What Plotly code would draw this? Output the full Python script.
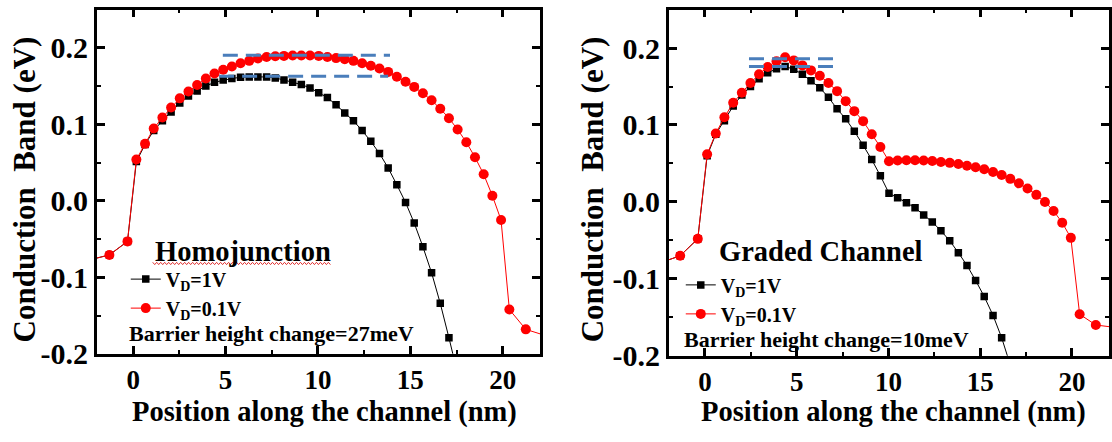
import plotly.graph_objects as go

W, H = 1112, 442
FONT = "Liberation Serif"

# ---------------- data ----------------
homo_x = [-2.27, -1.29, -0.31, 0.17, 0.64, 1.11, 1.58, 2.05, 2.52, 2.99, 3.46, 3.93, 4.40,
          4.87, 5.34, 5.81, 6.28, 6.75, 7.22, 7.69, 8.16, 8.63, 9.10, 9.57, 10.04, 10.51,
          10.98, 11.45, 11.92, 12.39, 12.86, 13.33, 13.80, 14.27, 14.74, 15.21, 15.68,
          16.15, 16.62, 17.09, 17.56, 18.03, 18.50, 18.97, 19.44, 19.91, 20.36, 21.25, 22.30]
homo_red = [-0.0766, -0.0707, -0.053, 0.054, 0.0745, 0.0946, 0.109, 0.122, 0.134, 0.143,
            0.1515, 0.160, 0.1665, 0.1715, 0.1757, 0.180, 0.183, 0.186, 0.188, 0.189, 0.1895,
            0.190, 0.190, 0.190, 0.1895, 0.188, 0.1866, 0.185, 0.183, 0.180, 0.1766, 0.173,
            0.1686, 0.1623, 0.1556, 0.149, 0.1406, 0.1314, 0.1205, 0.108, 0.0933, 0.0766,
            0.057, 0.0347, 0.0067, -0.025, -0.142, -0.168, -0.176]
homo_black = [-0.0766, -0.0707, -0.053, 0.0515, 0.0736, 0.092, 0.1046, 0.116, 0.128, 0.137,
              0.1435, 0.150, 0.155, 0.158, 0.160, 0.1615, 0.162, 0.162, 0.162, 0.1607, 0.158,
              0.155, 0.152, 0.1477, 0.1414, 0.135, 0.1255, 0.115, 0.1046, 0.092, 0.0778,
              0.062, 0.043, 0.021, -0.002, -0.029, -0.060, -0.094, -0.134, -0.179, -0.226]

graded_x = [-2.30, -1.35, -0.39, 0.12, 0.59, 1.06, 1.54, 2.01, 2.48, 2.95, 3.42, 3.90, 4.37,
            4.84, 5.31, 5.78, 6.26, 6.73, 7.20, 7.67, 8.14, 8.62, 9.09, 9.56, 10.03, 10.50,
            10.98, 11.45, 11.92, 12.39, 12.86, 13.34, 13.81, 14.28, 14.75, 15.22, 15.70,
            16.17, 16.64, 17.11, 17.58, 18.06, 18.53, 19.00, 19.47, 19.94, 20.42, 21.30, 22.30]
graded_red = [-0.078, -0.070, -0.048, 0.062, 0.089, 0.110, 0.129, 0.142, 0.1547, 0.166,
              0.1755, 0.183, 0.188, 0.184, 0.1775, 0.171, 0.164, 0.1547, 0.144, 0.131, 0.118,
              0.105, 0.088, 0.0715, 0.0529, 0.0538, 0.0542, 0.0542, 0.0538, 0.0533, 0.052,
              0.0508, 0.0492, 0.0471, 0.045, 0.0425, 0.0388, 0.035, 0.030, 0.0242, 0.0175,
              0.0092, 0.0, -0.0117, -0.027, -0.0467, -0.146, -0.160, -0.163]
graded_black = [-0.078, -0.070, -0.048, 0.060, 0.088, 0.1056, 0.1247, 0.139, 0.150, 0.160,
                0.168, 0.173, 0.176, 0.1725, 0.166, 0.1576, 0.1484, 0.136, 0.121, 0.108,
                0.092, 0.0736, 0.055, 0.034, 0.0112, 0.0055, -0.001, -0.0075, -0.017, -0.026,
                -0.0375, -0.0505, -0.066, -0.0825, -0.102, -0.123, -0.1475, -0.1765, -0.212]

# barrier-height reference levels (dashed lines)
homo_levels = [0.1905, 0.163]
homo_level_x = [[4.85, 13.9], [4.65, 13.8]]
graded_levels = [0.186, 0.176]
graded_level_x = [[2.4, 7.4], [2.4, 7.4]]

series_names = ["V<sub>D</sub>=1V", "V<sub>D</sub>=0.1V"]
panel_titles = ["Homojunction", "Graded Channel"]
barrier_notes = ["Barrier height change=27meV", "Barrier height change=10meV"]
x_tickvals = [0, 5, 10, 15, 20]
y_tickvals = [-0.2, -0.1, 0.0, 0.1, 0.2]
y_ticktext = ["-0.2", "-0.1", "0.0", "0.1", "0.2"]
x_title = "Position along the channel (nm)"
y_title = "Conduction  Band (eV)"

# ---------------- figure ----------------
fig = go.Figure()

panels = [
    dict(xa="x", ya="y", leg="legend", x=homo_x, red=homo_red, black=homo_black,
         levels=homo_levels, lx=homo_level_x),
    dict(xa="x2", ya="y2", leg="legend2", x=graded_x, red=graded_red, black=graded_black,
         levels=graded_levels, lx=graded_level_x),
]

for p in panels:
    fig.add_trace(go.Scatter(
        x=p["x"][:len(p["black"])], y=p["black"], mode="lines+markers",
        name=series_names[0], xaxis=p["xa"], yaxis=p["ya"], legend=p["leg"],
        line=dict(color="black", width=1),
        marker=dict(symbol="square", size=7.5, color="black", line=dict(width=0))))
    fig.add_trace(go.Scatter(
        x=p["x"], y=p["red"], mode="lines+markers",
        name=series_names[1], xaxis=p["xa"], yaxis=p["ya"], legend=p["leg"],
        line=dict(color="red", width=1),
        marker=dict(symbol="circle", size=10, color="red", line=dict(width=0))))
    for lev, xs in zip(p["levels"], p["lx"]):
        fig.add_trace(go.Scatter(
            x=xs, y=[lev, lev], mode="lines", showlegend=False, hoverinfo="skip",
            xaxis=p["xa"], yaxis=p["ya"],
            line=dict(color="#4a7ebb", width=3, dash="15px,8px")))


def xaxis(domain, anchor):
    return dict(domain=domain, anchor=anchor, range=[-1.97, 22.02],
                tickvals=x_tickvals, ticks="inside", ticklen=8, tickwidth=2.5,
                tickcolor="black", showline=True, linecolor="black", linewidth=2.5,
                mirror="allticks", showgrid=False, zeroline=False,
                tickfont=dict(family=FONT, size=27, color="black", weight="bold"),
                minor=dict(ticks="inside", ticklen=4, tickwidth=2, dtick=2.5, tick0=0,
                           tickcolor="black", showgrid=False))


def yaxis(domain, anchor):
    return dict(domain=domain, anchor=anchor, range=[-0.2, 0.25],
                tickvals=y_tickvals, ticktext=y_ticktext, ticks="inside", ticklen=8,
                tickwidth=2.5, tickcolor="black", showline=True, linecolor="black",
                linewidth=2.5, mirror="allticks", showgrid=False, zeroline=False,
                tickfont=dict(family=FONT, size=30, color="black", weight="bold"),
                minor=dict(ticks="inside", ticklen=4, tickwidth=2, dtick=0.05, tick0=0,
                           tickcolor="black", showgrid=False))


px = lambda v: v / W
py = lambda v: 1 - v / H

legfont = dict(family=FONT, size=20, color="black", weight="bold")
fig.update_layout(
    width=W, height=H, margin=dict(l=0, r=0, t=0, b=0),
    paper_bgcolor="white", plot_bgcolor="white",
    xaxis=xaxis([px(97), px(541)], "y"),
    yaxis=yaxis([py(368), py(10)], "x"),
    xaxis2=xaxis([px(670), px(1111)], "y2"),
    yaxis2=yaxis([py(370), py(10)], "x2"),
    legend=dict(x=px(126), y=py(270), xanchor="left", yanchor="top", font=legfont,
                bgcolor="rgba(0,0,0,0)", tracegroupgap=0, itemwidth=30),
    legend2=dict(x=px(682), y=py(276), xanchor="left", yanchor="top", font=legfont,
                 bgcolor="rgba(0,0,0,0)", tracegroupgap=0, itemwidth=30),
    showlegend=True,
)


def note(text, x, y, size, xanchor="center", angle=0):
    return dict(text=text, x=px(x), y=py(y), xref="paper", yref="paper",
                xanchor=xanchor, yanchor="middle", textangle=angle, showarrow=False,
                font=dict(family=FONT, size=size, color="black", weight="bold"))


ann = []
for cx in (325, 895):
    ann.append(note(x_title, cx, 428, 28.5))
for cx in (24, 593):
    ann.append(note(y_title, cx, 197, 31, angle=-90))
ann.append(note(panel_titles[0], 243, 262, 28.5))
ann.append(note(panel_titles[1], 822, 262, 28.5))
ann.append(note(barrier_notes[0], 127, 347, 22, xanchor="left"))
ann.append(note(barrier_notes[1], 683, 353, 22, xanchor="left"))
fig.update_layout(annotations=ann)

# red wavy spell-check underline under "Homojunction"
pts = []
xx = 153.0
k = 0
while xx <= 332:
    pts.append((px(xx), py(274 + (1.2 if k % 2 else -1.2))))
    xx += 2.0
    k += 1
path = "M " + " L ".join(f"{a:.5f},{b:.5f}" for a, b in pts)
fig.add_shape(type="path", path=path, xref="paper", yref="paper",
              line=dict(color="#e03030", width=1))

fig.write_html("out.html")
